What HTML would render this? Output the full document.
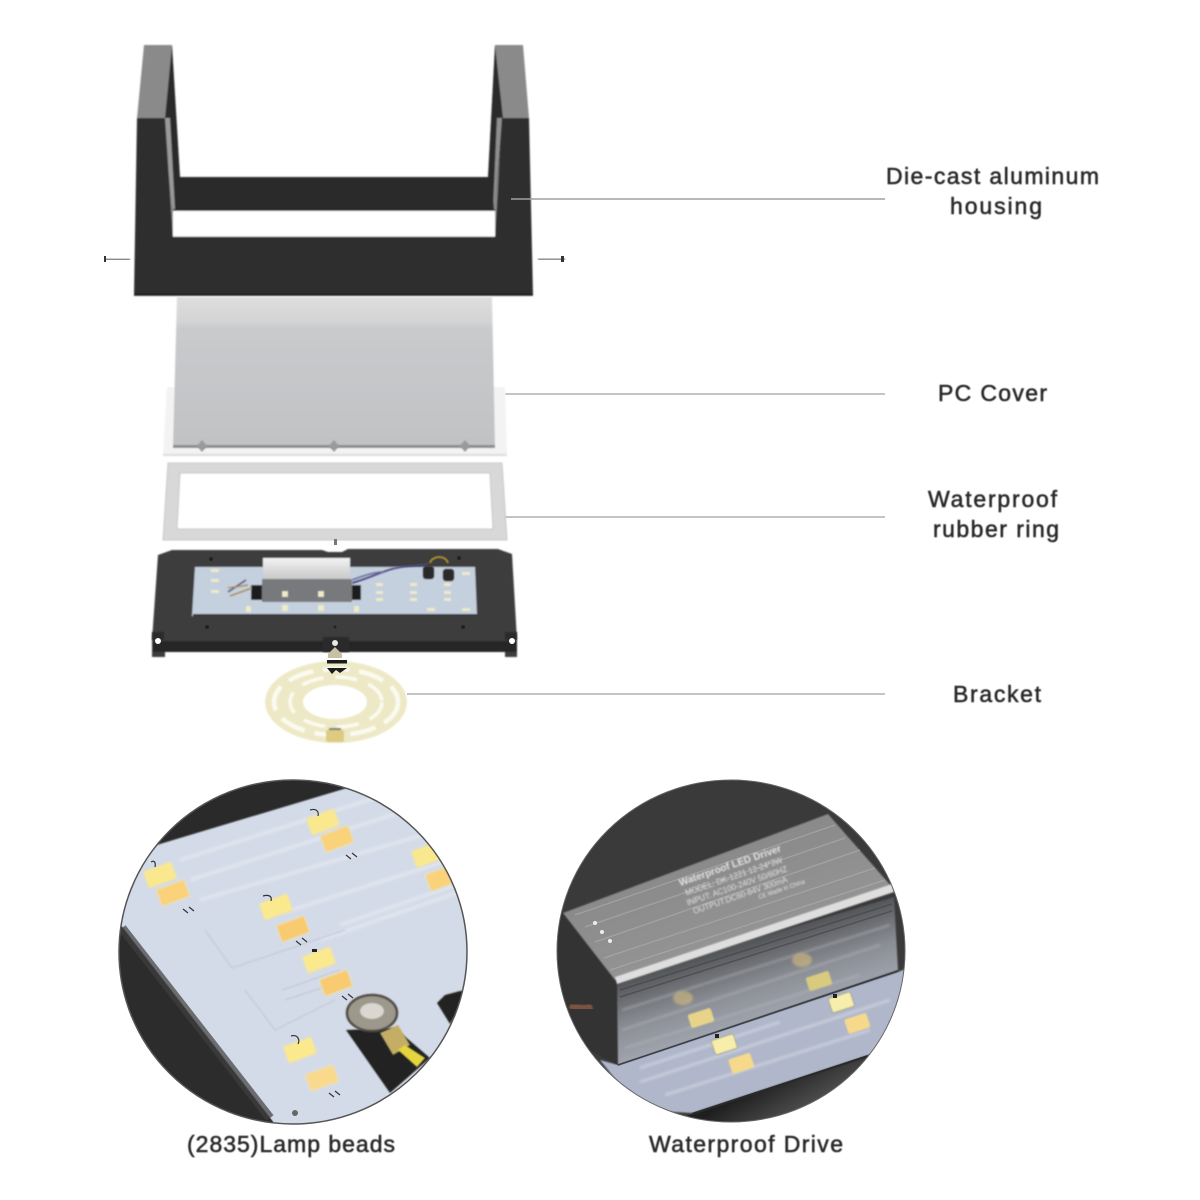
<!DOCTYPE html>
<html><head><meta charset="utf-8"><style>
html,body{margin:0;padding:0;background:#fff}
svg{display:block}
.l{font-family:"Liberation Sans",sans-serif;font-size:23px;fill:#2a2a2a;stroke:#2a2a2a;stroke-width:.55;filter:url(#tb)}
.d{font-family:"Liberation Sans",sans-serif;fill:#e4e4e4}
</style></head><body>
<svg width="1200" height="1200" viewBox="0 0 1200 1200" xmlns="http://www.w3.org/2000/svg">
<defs>
<filter id="tb" x="-5%" y="-20%" width="110%" height="140%"><feGaussianBlur stdDeviation=".45"/></filter>
<filter id="b1" x="-10%" y="-10%" width="120%" height="120%"><feGaussianBlur stdDeviation=".7"/></filter>
<filter id="b2" x="-10%" y="-10%" width="120%" height="120%"><feGaussianBlur stdDeviation="1.2"/></filter>
<filter id="b4" x="-30%" y="-30%" width="160%" height="160%"><feGaussianBlur stdDeviation="3"/></filter>
<clipPath id="c1"><ellipse cx="293" cy="952" rx="174" ry="172"/></clipPath>
<clipPath id="c2"><ellipse cx="731" cy="951" rx="174" ry="171"/></clipPath>
<linearGradient id="cov" x1="0" y1="0" x2="0" y2="1"><stop offset="0" stop-color="#dedede"/><stop offset=".17" stop-color="#d3d3d3"/><stop offset=".21" stop-color="#c8cacc"/><stop offset="1" stop-color="#c0c2c4"/></linearGradient>
<linearGradient id="frt" gradientUnits="userSpaceOnUse" x1="755" y1="938" x2="780" y2="1017"><stop offset="0" stop-color="#505255"/><stop offset=".25" stop-color="#6c6e72"/><stop offset=".55" stop-color="#8b8e95"/><stop offset="1" stop-color="#a2a6b0"/></linearGradient>
<linearGradient id="top" gradientUnits="userSpaceOnUse" x1="695" y1="864" x2="725" y2="950"><stop offset="0" stop-color="#8a8a8b"/><stop offset="1" stop-color="#949495"/></linearGradient>
<linearGradient id="drv" x1="0" y1="0" x2="0" y2="1"><stop offset="0" stop-color="#f2f2f2"/><stop offset="1" stop-color="#c8c8c8"/></linearGradient>
<linearGradient id="shd" gradientUnits="userSpaceOnUse" x1="750" y1="1090" x2="770" y2="1125"><stop offset="0" stop-color="#1f1f1f"/><stop offset="1" stop-color="#4a4a4a"/></linearGradient>
</defs>
<rect width="1200" height="1200" fill="#fff"/>

<!-- housing -->
<g filter="url(#b1)">
<polygon points="144,45 172,45 180,177 488,177 495,45 523,45 529,118 502,118 495,237 173,237 165,118 137,118" fill="#8a8a8a"/>
<polygon points="172,45 180,177 488,177 495,45 503,118 495,210 173,210 165,118" fill="#2a2a2a"/>
<polygon points="163,118 170,118 175,210 173,210" fill="#9a9a9a"/>
<polygon points="502,118 495,210 493,210 497,118" fill="#8f8f8f"/>
<polygon points="180,177 488,177 492,180 494,209 175,209 176,180" fill="#2a2a2a"/>
<polygon points="137,118 165,118 173,237 495,237 502,118 529,118 533,295 134,295" fill="#2d2d2d"/>
<rect x="173" y="210.500" width="322" height="26" fill="#fff"/>
<line x1="134" y1="295" x2="533" y2="295" stroke="#111" stroke-width="1.500"/>
<line x1="173" y1="210" x2="495" y2="210" stroke="#111" stroke-width="1.500"/>
</g>
<g stroke="#444" stroke-width="1.500" filter="url(#b1)">
<line x1="105" y1="259.500" x2="130" y2="259.500"/>
<line x1="538" y1="259" x2="565" y2="259"/>
</g>
<rect x="104" y="256" width="2" height="6" fill="#333"/><rect x="561" y="256" width="3" height="6" fill="#333"/>

<!-- leader lines -->
<g stroke="#b0b0b0" stroke-width="1.500" fill="none">
<line x1="511" y1="199" x2="885" y2="199" stroke="#a0a0a0"/>
<line x1="505" y1="394" x2="885" y2="394"/>
<line x1="505" y1="517" x2="885" y2="517"/>
<line x1="407" y1="694" x2="885" y2="694"/>
</g>

<!-- PC cover -->
<g filter="url(#b1)">
<polygon points="167,387 505,387 507,455 163,455" fill="#f3f3f3"/>
<polygon points="177,297 492,297 495,447 173,447" fill="url(#cov)"/>
<rect x="173" y="445" width="322" height="3" fill="#8c8c8c"/>
<polygon points="163,454 507,454 507,456 163,456" fill="#dcdcdc"/>
</g>
<g fill="#9a9a9a" filter="url(#b1)">
<polygon points="202,440 207,446 202,452 197,446"/>
<polygon points="334,440 339,446 334,452 329,446"/>
<polygon points="465,440 470,446 465,452 460,446"/>
</g>

<!-- rubber ring -->
<path filter="url(#b1)" fill-rule="evenodd" d="M168,463H502L507,540H163ZM180,473L177,529H493L490,473Z" fill="#d8d8d8" stroke="#c8c8c8" stroke-width="1"/>
<rect x="334" y="539" width="3" height="6" fill="#777"/>

<!-- LED module -->
<g filter="url(#b1)">
<polygon points="158,555 172,550 322,550 328,552 342,552 348,549 498,549 512,554 517,640 517,657 505,657 505,652 165,652 165,657 152,657 152,640" fill="#3c3c3c"/>
<rect x="153" y="641" width="364" height="11" fill="#262626"/>
<polygon points="195,567 475,567 477,616 192,616" fill="#c4d0de"/>
<rect x="193" y="614" width="284" height="2" fill="#333"/>
<rect x="251" y="585" width="15" height="15" fill="#1b1b1b"/>
<rect x="346" y="585" width="15" height="15" fill="#1b1b1b"/>
<rect x="263" y="558" width="87" height="21" fill="url(#drv)"/>
<rect x="262" y="579" width="90" height="23" fill="#77797c"/>
</g>
<g fill="#f0eac8" filter="url(#b1)">
<rect x="282" y="591" width="6" height="6"/><rect x="318" y="591" width="6" height="6"/>
<rect x="282" y="605" width="6" height="6"/><rect x="318" y="605" width="6" height="6"/>
<rect x="246" y="606" width="5" height="6"/><rect x="354" y="606" width="5" height="6"/>
<rect x="211" y="569" width="8" height="3"/><rect x="211" y="579" width="8" height="3"/><rect x="211" y="590" width="8" height="3"/>
<rect x="376" y="583" width="7" height="3"/><rect x="376" y="591" width="7" height="3"/><rect x="376" y="598" width="7" height="3"/>
<rect x="410" y="583" width="7" height="3"/><rect x="410" y="591" width="7" height="3"/><rect x="410" y="598" width="7" height="3"/>
<rect x="444" y="583" width="7" height="3"/><rect x="444" y="591" width="7" height="3"/><rect x="444" y="598" width="7" height="3"/>
<rect x="427" y="608" width="8" height="3"/><rect x="462" y="608" width="8" height="3"/><rect x="462" y="572" width="8" height="3"/>
</g>
<g fill="none" filter="url(#b1)">
<path d="M352,583C370,578 385,570 396,568C410,565 420,566 428,564" stroke="#4a4a80" stroke-width="1.800"/>
<path d="M352,580C368,574 376,572 384,572" stroke="#6b6b95" stroke-width="1.500"/>
<path d="M228,592L246,580" stroke="#5a5a80" stroke-width="1.500"/>
<path d="M228,588L248,585M230,596L252,588" stroke="#a8864a" stroke-width="1.200"/>
<path d="M430,563C432,556 445,554 448,563" stroke="#b79a2c" stroke-width="1.800"/>
</g>
<g fill="#2a2a2a" filter="url(#b1)">
<rect x="423" y="566" width="11" height="13" rx="3"/><rect x="443" y="569" width="11" height="12" rx="3"/>
<rect x="323" y="637" width="26" height="15"/>
<rect x="152" y="632" width="12" height="8"/><rect x="505" y="632" width="12" height="8"/>
</g>
<circle cx="158" cy="641" r="3" fill="#fff"/><circle cx="512" cy="641" r="3" fill="#fff"/><circle cx="335" cy="643" r="3" fill="#e8e8e8"/>
<g fill="#222"><circle cx="211" cy="559" r="2"/><circle cx="459" cy="558" r="2"/><circle cx="207" cy="627" r="2"/><circle cx="335" cy="627" r="1.500"/><circle cx="463" cy="627" r="2"/></g>

<!-- bracket -->
<g filter="url(#b1)">
<path fill-rule="evenodd" d="M265,702a71,41 0 1,0 142,0a71,41 0 1,0 -142,0ZM303,702a32,17 0 1,0 64,0a32,17 0 1,0 -64,0Z" fill="#ede9c6"/>
<ellipse cx="336" cy="702" rx="62" ry="33" fill="none" stroke="#fbfaf0" stroke-width="4.500" stroke-dasharray="26 10"/>
<ellipse cx="336" cy="702" rx="46" ry="25" fill="none" stroke="#fbfaf0" stroke-width="3.500" stroke-dasharray="22 12"/>
<rect x="326" y="730" width="18" height="12" rx="2" fill="#dccb80"/>
<rect x="329" y="728" width="12" height="2" fill="#777"/>
</g>
<polygon points="335,647 342,654 342,658 328,658 328,654" fill="#c8c0a4"/>
<rect x="327" y="660" width="20" height="3.500" fill="#1c1c1c"/>
<polygon points="327,668 347,668 340,673 336,670 332,674" fill="#1c1c1c"/>

<!-- circle 1 -->
<g clip-path="url(#c1)">
<rect x="110" y="770" width="370" height="370" fill="#2a2a2a"/>
<polygon points="150,847 357,785 480,780 480,1140 270,1140 273,1122 122,927 110,910" fill="#d4dbe8" filter="url(#b1)"/>
<polygon points="110,928 122,927 273,1122 262,1135 110,1130" fill="#2c2c2c"/>
<line x1="122" y1="928" x2="270" y2="1118" stroke="#3f3f3f" stroke-width="9" opacity=".7"/>
<g stroke="#e2e7ef" stroke-width="4" fill="none" opacity=".8" filter="url(#b2)">
<path d="M180,860L400,790M190,880L420,806M200,900L440,830M285,912L465,855M320,940L465,890M340,925L470,880"/>
</g>
<g stroke="#bec8d8" stroke-width="1.500" fill="none" filter="url(#b1)" opacity=".75">
<path d="M205,930L232,968L345,930M245,990L275,1030L335,1000"/>
<path d="M282,990L340,970M285,1000L345,980"/>
</g>
<polygon points="437,1003 445,995 460,991 470,990 450,1024" fill="#232323" filter="url(#b1)"/>
<polygon points="346,1030 390,1093 430,1058 395,1028" fill="#232323" filter="url(#b1)"/>
<g filter="url(#b1)">
<g transform="rotate(-20 160 875)"><rect x="145" y="866" width="30" height="18" rx="2" fill="#fae88e" stroke="#e4dfc2" stroke-width="1.500"/></g>
<g transform="rotate(-20 173 893)"><rect x="158" y="884" width="30" height="18" rx="2" fill="#f9d27a" stroke="#e4dfc2" stroke-width="1.500"/></g>
<g transform="rotate(-20 323 822)"><rect x="308" y="813" width="30" height="18" rx="2" fill="#fae88e" stroke="#e4dfc2" stroke-width="1.500"/></g>
<g transform="rotate(-20 337 839)"><rect x="322" y="830" width="30" height="18" rx="2" fill="#f9d27a" stroke="#e4dfc2" stroke-width="1.500"/></g>
<g transform="rotate(-20 427 855)"><rect x="413" y="846" width="30" height="18" rx="2" fill="#fae88e" stroke="#e4dfc2" stroke-width="1.500"/></g>
<g transform="rotate(-20 442 878)"><rect x="427" y="869" width="30" height="18" rx="2" fill="#f9d27a" stroke="#e4dfc2" stroke-width="1.500"/></g>
<g transform="rotate(-20 276 907)"><rect x="261" y="898" width="30" height="18" rx="2" fill="#fbe98e" stroke="#e4dfc2" stroke-width="1.500"/></g>
<g transform="rotate(-20 293 929)"><rect x="278" y="920" width="30" height="18" rx="2" fill="#f8cb70" stroke="#e4dfc2" stroke-width="1.500"/></g>
<g transform="rotate(-20 319 960)"><rect x="304" y="951" width="30" height="18" rx="2" fill="#fbe98e" stroke="#e4dfc2" stroke-width="1.500"/></g>
<g transform="rotate(-20 336 983)"><rect x="321" y="974" width="30" height="18" rx="2" fill="#f8cb70" stroke="#e4dfc2" stroke-width="1.500"/></g>
<g transform="rotate(-20 300 1050)"><rect x="285" y="1041" width="30" height="18" rx="2" fill="#fbe98e" stroke="#e4dfc2" stroke-width="1.500"/></g>
<g transform="rotate(-20 322 1078)"><rect x="307" y="1069" width="30" height="18" rx="2" fill="#f9d98c" stroke="#e4dfc2" stroke-width="1.500"/></g>
</g>
<g stroke="#333" stroke-width="1.200" fill="none">
<path d="M151,862C154,860 156,862 155,867M310,810C317,808 319,812 318,816M263,896C270,894 272,897 271,901M291,1036C298,1034 300,1040 298,1044"/>
<path d="M183,909l5,4M189,907l5,4M346,855l5,4M352,853l5,4M296,941l5,4M302,938l5,4M342,996l5,4M348,994l5,4M329,1093l5,4M335,1091l5,4"/>
</g>
<rect x="312" y="949" width="5" height="3" fill="#222"/>
<!-- screw + terminal -->
<polygon points="380,1033 398,1025 410,1045 393,1055" fill="#c4ae66" filter="url(#b1)"/>
<polygon points="398,1050 405,1045 425,1058 417,1067" fill="#e6d63e" filter="url(#b1)"/>
<ellipse cx="372" cy="1013" rx="25" ry="18" fill="#9d988c" stroke="#4d4a42" stroke-width="2.500" filter="url(#b1)"/>
<ellipse cx="372" cy="1011" rx="12" ry="8" fill="#dad7d0" filter="url(#b1)"/>
<circle cx="295" cy="1113" r="3" fill="#666"/>
</g>
<ellipse cx="293" cy="952" rx="174" ry="172" fill="none" stroke="#555" stroke-width="1.500"/>

<!-- circle 2 -->
<g clip-path="url(#c2)">
<rect x="550" y="770" width="370" height="370" fill="#3a3a3a"/>
<polygon points="680,1118 868,1055 905,1040 910,1130 680,1130" fill="url(#shd)"/>
<polygon points="600,1060 618,1065 898,972 915,965 915,1040 868,1055 692,1113 640,1110" fill="#b0b7ca" filter="url(#b1)"/>
<g stroke="#cfd4e0" stroke-width="3" opacity=".75" filter="url(#b2)"><path d="M640,1082L890,1000M665,1095L870,1030M640,1068L780,1022"/></g>
<line x1="692" y1="1114" x2="868" y2="1056" stroke="#2a2a2a" stroke-width="2"/>
<polygon points="550,925 563,913 617,980 618,1065 550,1030" fill="#333"/>
<polygon points="617,980 894,897 898,970 618,1065" fill="url(#frt)" filter="url(#b1)"/>
<g stroke="#b4b7bc" stroke-width="2" opacity=".55" filter="url(#b2)"><path d="M622,1010L890,925M622,1030L880,945M625,1048L860,975"/></g>
<g stroke="#3f4043" stroke-width="1.500" opacity=".6"><path d="M620,990L892,904M620,997L892,911"/></g>
<line x1="618" y1="1065" x2="898" y2="971" stroke="#3a3d44" stroke-width="1.500"/>
<polygon points="563,913 828,814 892,887 615,980" fill="url(#top)" filter="url(#b1)"/>
<g stroke="#adafb1" stroke-width="1.200" opacity=".65"><path d="M575,915L835,825M585,927L845,838M595,942L860,850M604,958L875,868M610,970L885,880"/></g>
<polygon points="615,977 892,884 894,892 617,984" fill="#dedede" filter="url(#b1)"/>
<g transform="rotate(-19 735 880)" filter="url(#b1)">
<text x="735" y="868" class="d" font-size="10" font-weight="bold" text-anchor="middle">Waterproof LED Driver</text>
<text x="735" y="879" class="d" font-size="8" text-anchor="middle">MODEL: DK-1221 12-24*3W</text>
<text x="735" y="889" class="d" font-size="8" text-anchor="middle">INPUT: AC100-240V 50/60HZ</text>
<text x="735" y="899" class="d" font-size="8" text-anchor="middle">OUTPUT:DC60-84V 300mA</text>
<text x="776" y="906" class="d" font-size="6" text-anchor="middle">CE   Made in China</text>
</g>
<g fill="#eee"><circle cx="595" cy="923" r="2"/><circle cx="602" cy="932" r="2"/><circle cx="610" cy="941" r="2"/></g>
<g filter="url(#b1)">
<g transform="rotate(-18 701 1018)"><rect x="689" y="1011" width="24" height="14" rx="2" fill="#e7d488"/></g>
<g transform="rotate(-18 819 981)"><rect x="807" y="974" width="24" height="14" rx="2" fill="#d8cb7e"/></g>
</g>
<g fill="#d5bd80" opacity=".6" filter="url(#b2)"><ellipse cx="683" cy="998" rx="10" ry="7"/><ellipse cx="802" cy="960" rx="10" ry="7"/></g>
<g filter="url(#b1)">
<g transform="rotate(-18 724 1045)"><rect x="713" y="1037" width="23" height="15" rx="2" fill="#f8eeab" stroke="#8a8a70" stroke-width=".6"/></g>
<g transform="rotate(-18 741 1064)"><rect x="730" y="1056" width="23" height="15" rx="2" fill="#f6d98a"/></g>
<g transform="rotate(-18 841 1003)"><rect x="830" y="995" width="23" height="15" rx="2" fill="#f8eeab" stroke="#8a8a70" stroke-width=".6"/></g>
<g transform="rotate(-18 857 1024)"><rect x="846" y="1016" width="23" height="15" rx="2" fill="#f6d98a"/></g>
</g>
<rect x="715" y="1034" width="4" height="4" fill="#222"/><rect x="833" y="994" width="4" height="4" fill="#222"/>
<path d="M570,1005C578,1008 584,1010 592,1006" stroke="#7d5240" stroke-width="7" fill="none" filter="url(#b1)"/>
</g>
<ellipse cx="731" cy="951" rx="174" ry="171" fill="none" stroke="#666" stroke-width="1"/>

<!-- labels -->
<text class="l" x="886" y="184" textLength="213" lengthAdjust="spacing">Die-cast aluminum</text>
<text class="l" x="950" y="214" textLength="92" lengthAdjust="spacing">housing</text>
<text class="l" x="938" y="401" textLength="109" lengthAdjust="spacing">PC Cover</text>
<text class="l" x="928" y="507" textLength="129" lengthAdjust="spacing">Waterproof</text>
<text class="l" x="933" y="537" textLength="126" lengthAdjust="spacing">rubber ring</text>
<text class="l" x="953" y="702" textLength="88" lengthAdjust="spacing">Bracket</text>
<text class="l" x="187" y="1152" textLength="208" lengthAdjust="spacing">(2835)Lamp beads</text>
<text class="l" x="649" y="1152" textLength="194" lengthAdjust="spacing">Waterproof Drive</text>
</svg>
</body></html>
